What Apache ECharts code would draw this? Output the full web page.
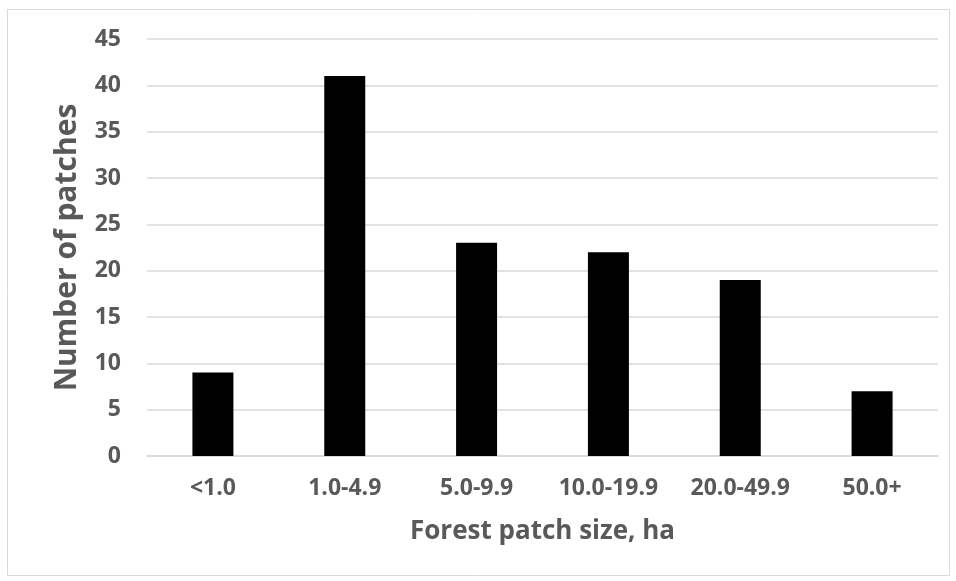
<!DOCTYPE html>
<html><head><meta charset="utf-8">
<script src="https://cdn.jsdelivr.net/npm/echarts@6/dist/echarts.min.js"></script>
<style>html,body{margin:0;padding:0;background:#fff}#c{width:956px;height:581px}</style>
</head><body><div id="c"></div>
<script>
const categories = ['<1.0', '1.0-4.9', '5.0-9.9', '10.0-19.9', '20.0-49.9', '50.0+'];
const patchCounts = [9, 41, 23, 22, 19, 7];
const yTicks = { min: 0, max: 45, interval: 5 };

const chart = echarts.init(document.getElementById('c'), null, { renderer: 'canvas' });
const font = '"Open Sans", sans-serif';
chart.setOption({
  animation: false,
  backgroundColor: '#fff',
  graphic: [{ type: 'rect', shape: { x: 7.5, y: 9.5, width: 942, height: 566 }, style: { fill: 'none', stroke: '#d9d9d9', lineWidth: 1 } }],
  grid: { left: 147, right: 18, top: 39, bottom: 125, containLabel: false },
  xAxis: {
    type: 'category', data: categories,
    axisLine: { show: true, lineStyle: { color: '#d9d9d9', width: 1.5 } },
    axisTick: { show: false },
    axisLabel: { color: '#595959', fontSize: 23, fontWeight: 'bold', fontFamily: font, margin: 21, interval: 0, hideOverlap: false },
    name: 'Forest patch size, ha', nameLocation: 'middle', nameGap: 63,
    nameTextStyle: { color: '#595959', fontSize: 26, fontWeight: 'bold', fontFamily: font }
  },
  yAxis: {
    type: 'value', min: yTicks.min, max: yTicks.max, interval: yTicks.interval,
    axisLine: { show: false }, axisTick: { show: false },
    splitLine: { lineStyle: { color: '#d9d9d9', width: 1.5 } },
    axisLabel: { color: '#595959', fontSize: 23, fontWeight: 'bold', fontFamily: font, margin: 26 },
    name: 'Number of patches', nameLocation: 'middle', nameGap: 65, nameRotate: 90,
    nameTextStyle: { color: '#595959', fontSize: 30, fontWeight: 'bold', fontFamily: font }
  },
  series: [{
    type: 'bar', data: patchCounts, barWidth: 41,
    itemStyle: { color: '#000' }
  }]
});
</script></body></html>
